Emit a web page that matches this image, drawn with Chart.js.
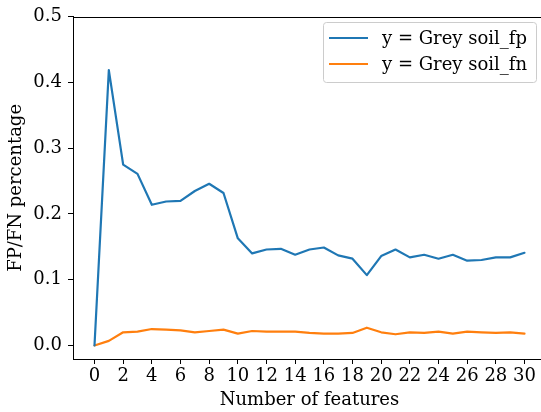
<!DOCTYPE html>
<html>
<head>
<meta charset="utf-8">
<script src="https://cdn.jsdelivr.net/npm/chart.js@4.4.1/dist/chart.umd.min.js"></script>
<style>
  html, body { margin: 0; padding: 0; background: #fff; overflow: hidden; }
  #wrap { width: 560px; height: 412px; }
</style>
</head>
<body>
<div id="wrap"><canvas id="myChart"></canvas></div>
<script>
const features = [0, 1, 2, 3, 4, 5, 6, 7, 8, 9, 10, 11, 12, 13, 14, 15, 16, 17, 18, 19, 20, 21, 22, 23, 24, 25, 26, 27, 28, 29, 30];
const fpValues = [0.0, 0.419, 0.275, 0.261, 0.214, 0.219, 0.220, 0.235, 0.246, 0.232, 0.163, 0.140, 0.146, 0.147, 0.138, 0.146, 0.149, 0.137, 0.132, 0.107, 0.136, 0.146, 0.134, 0.138, 0.132, 0.138, 0.129, 0.130, 0.134, 0.134, 0.141];
const fnValues = [0.0, 0.007, 0.020, 0.021, 0.025, 0.024, 0.023, 0.020, 0.022, 0.024, 0.018, 0.022, 0.021, 0.021, 0.021, 0.019, 0.018, 0.018, 0.019, 0.027, 0.020, 0.017, 0.020, 0.019, 0.021, 0.018, 0.021, 0.020, 0.019, 0.020, 0.018];
const xTicks = [0, 2, 4, 6, 8, 10, 12, 14, 16, 18, 20, 22, 24, 26, 28, 30];
const yTicks = [0.0, 0.1, 0.2, 0.3, 0.4, 0.5];
const seriesNames = ['y = Grey soil_fp', 'y = Grey soil_fn'];

const serif = "'DejaVu Serif', 'Liberation Serif', serif";
const fontSize = 18;

function toPoints(vals) {
  return vals.map((v, i) => ({ x: features[i], y: v }));
}

// top spine + boxed legend in the upper right
const frameAndLegend = {
  id: 'frameAndLegend',
  afterDraw(chart) {
    const { ctx, chartArea } = chart;
    ctx.save();
    ctx.strokeStyle = '#000';
    ctx.lineWidth = 1;
    ctx.beginPath();
    ctx.moveTo(chartArea.left, Math.round(chartArea.top) + 0.5);
    ctx.lineTo(chartArea.right, Math.round(chartArea.top) + 0.5);
    ctx.stroke();

    const bx = 323.5, by = 22.5, bw = 213, bh = 60, r = 3;
    ctx.fillStyle = 'rgba(255,255,255,0.8)';
    ctx.strokeStyle = '#cccccc';
    ctx.beginPath();
    ctx.roundRect(bx, by, bw, bh, r);
    ctx.fill();
    ctx.stroke();

    ctx.font = fontSize + 'px ' + serif;
    ctx.textBaseline = 'middle';
    chart.data.datasets.forEach((ds, i) => {
      const y = 38 + i * 26;
      ctx.strokeStyle = ds.borderColor;
      ctx.lineWidth = 2;
      ctx.beginPath();
      ctx.moveTo(329, y);
      ctx.lineTo(368, y);
      ctx.stroke();
      ctx.fillStyle = '#000';
      ctx.fillText(ds.label, 382, y + 1);
    });
    ctx.restore();
  }
};

const ctx = document.getElementById('myChart').getContext('2d');

const myChart = new Chart(ctx, {
  type: 'line',
  data: {
    datasets: [{
      label: seriesNames[0],
      data: toPoints(fpValues),
      borderColor: '#1f77b4',
      backgroundColor: '#1f77b4',
      borderWidth: 2.2,
      borderJoinStyle: 'round',
      borderCapStyle: 'round',
      pointRadius: 0,
      tension: 0
    }, {
      label: seriesNames[1],
      data: toPoints(fnValues),
      borderColor: '#ff7f0e',
      backgroundColor: '#ff7f0e',
      borderWidth: 2.2,
      borderJoinStyle: 'round',
      borderCapStyle: 'round',
      pointRadius: 0,
      tension: 0
    }]
  },
  options: {
    responsive: true,
    maintainAspectRatio: false,
    animation: false,
    layout: { padding: { left: 0, top: 13, right: 14, bottom: 0 } },
    plugins: {
      legend: { display: false },
      tooltip: { enabled: false }
    },
    scales: {
      x: {
        type: 'linear',
        min: -1.5,
        max: 31.5,
        afterBuildTicks: (s) => { s.ticks = xTicks.map(v => ({ value: v })); },
        afterFit: (s) => { s.height = 53; },
        grid: { drawOnChartArea: false, drawTicks: true, tickLength: 5, color: '#000' },
        border: { display: true, color: '#000', width: 1 },
        ticks: { color: '#000', padding: 2, maxRotation: 0, font: { family: serif, size: fontSize } },
        title: { display: true, text: 'Number of features', color: '#000', padding: { top: 0, bottom: 1 }, font: { family: serif, size: fontSize } }
      },
      y: {
        min: -0.0206,
        max: 0.5,
        afterBuildTicks: (s) => { s.ticks = yTicks.map(v => ({ value: v })); },
        afterFit: (s) => { s.width = 73; },
        grid: { drawOnChartArea: false, drawTicks: true, tickLength: 5, color: '#000' },
        border: { display: true, color: '#000', width: 1 },
        ticks: { color: '#000', padding: 6, callback: (v) => v.toFixed(1), font: { family: serif, size: fontSize } },
        title: { display: true, text: 'FP/FN percentage', color: '#000', padding: { top: 6, bottom: 0 }, font: { family: serif, size: fontSize } }
      }
    }
  },
  plugins: [frameAndLegend]
});
</script>
</body>
</html>
